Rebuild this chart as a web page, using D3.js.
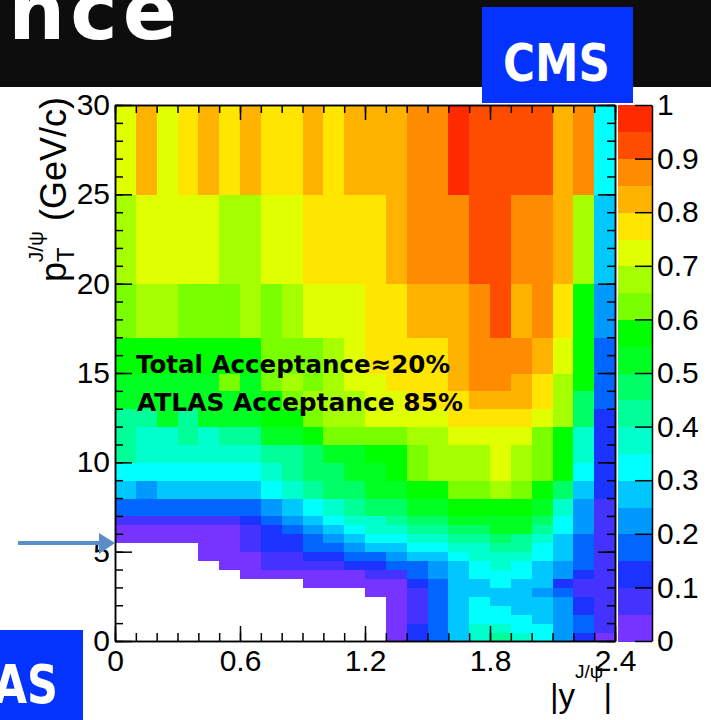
<!DOCTYPE html>
<html>
<head>
<meta charset="utf-8">
<script src="https://cdn.jsdelivr.net/npm/d3@7"></script>
<style>
    body { margin: 0; background: #fff; }
    svg { display: block; }
</style>
</head>
<body>
<svg id="chart" width="711" height="720"></svg>
<script>
// |y| bin edges (24 bins of 0.1)
const yEdges = [0, 0.1, 0.2, 0.3, 0.4, 0.5, 0.6, 0.7, 0.8, 0.9, 1.0, 1.1, 1.2,
    1.3, 1.4, 1.5, 1.6, 1.7, 1.8, 1.9, 2.0, 2.1, 2.2, 2.3, 2.4];

// pT bin edges (GeV/c)
const ptEdges = [0, 0.5, 1, 1.5, 2, 2.5, 3, 3.5, 4, 4.5, 5, 5.5, 6, 6.5, 7,
    8, 9, 10, 11, 12, 13, 14, 15, 17, 20, 25, 30];

// acceptance per cell, one row per pT bin (low to high), one value per |y| bin; null = empty
const N = null;
const acceptance = [
    [N, N, N, N, N, N, N, N, N, N, N, N, N, 0.02, 0.12, 0.17, 0.27, 0.37, 0.42, 0.37, 0.32, 0.22, 0.12, 0.02],
    [N, N, N, N, N, N, N, N, N, N, N, N, N, 0.02, 0.12, 0.17, 0.27, 0.37, 0.37, 0.32, 0.32, 0.22, 0.17, 0.07],
    [N, N, N, N, N, N, N, N, N, N, N, N, N, 0.02, 0.07, 0.17, 0.27, 0.32, 0.32, 0.32, 0.27, 0.22, 0.17, 0.07],
    [N, N, N, N, N, N, N, N, N, N, N, N, N, 0.02, 0.07, 0.17, 0.27, 0.32, 0.32, 0.27, 0.27, 0.22, 0.12, 0.07],
    [N, N, N, N, N, N, N, N, N, N, N, N, N, 0.02, 0.07, 0.17, 0.27, 0.32, 0.27, 0.27, 0.27, 0.22, 0.12, 0.07],
    [N, N, N, N, N, N, N, N, N, N, N, N, 0.02, 0.02, 0.07, 0.17, 0.27, 0.27, 0.27, 0.27, 0.22, 0.17, 0.07, 0.07],
    [N, N, N, N, N, N, N, N, N, 0.02, 0.02, 0.02, 0.02, 0.02, 0.12, 0.17, 0.27, 0.27, 0.32, 0.27, 0.27, 0.12, 0.07, 0.07],
    [N, N, N, N, N, N, 0.02, 0.02, 0.02, 0.02, 0.02, 0.02, 0.07, 0.07, 0.17, 0.22, 0.27, 0.32, 0.32, 0.32, 0.27, 0.22, 0.12, 0.07],
    [N, N, N, N, N, 0.02, 0.02, 0.07, 0.07, 0.07, 0.07, 0.12, 0.12, 0.17, 0.17, 0.22, 0.27, 0.32, 0.37, 0.32, 0.27, 0.22, 0.17, 0.07],
    [N, N, N, N, 0.02, 0.02, 0.02, 0.07, 0.07, 0.12, 0.12, 0.17, 0.17, 0.22, 0.27, 0.27, 0.32, 0.37, 0.37, 0.37, 0.32, 0.27, 0.17, 0.07],
    [N, N, N, N, 0.02, 0.02, 0.07, 0.12, 0.12, 0.17, 0.17, 0.22, 0.27, 0.27, 0.32, 0.32, 0.37, 0.37, 0.42, 0.42, 0.32, 0.27, 0.17, 0.07],
    [0.02, 0.02, 0.02, 0.02, 0.02, 0.02, 0.07, 0.12, 0.12, 0.17, 0.22, 0.27, 0.32, 0.32, 0.37, 0.37, 0.42, 0.42, 0.47, 0.42, 0.37, 0.27, 0.17, 0.07],
    [0.02, 0.02, 0.02, 0.02, 0.02, 0.02, 0.07, 0.12, 0.17, 0.22, 0.27, 0.32, 0.37, 0.37, 0.42, 0.42, 0.47, 0.47, 0.52, 0.52, 0.42, 0.32, 0.22, 0.07],
    [0.07, 0.07, 0.07, 0.07, 0.07, 0.07, 0.12, 0.17, 0.22, 0.27, 0.32, 0.37, 0.37, 0.42, 0.47, 0.47, 0.52, 0.52, 0.52, 0.52, 0.47, 0.32, 0.22, 0.07],
    [0.17, 0.17, 0.17, 0.17, 0.17, 0.17, 0.17, 0.22, 0.27, 0.32, 0.37, 0.42, 0.47, 0.47, 0.52, 0.52, 0.57, 0.57, 0.57, 0.57, 0.52, 0.37, 0.22, 0.07],
    [0.27, 0.22, 0.27, 0.27, 0.27, 0.27, 0.27, 0.32, 0.37, 0.42, 0.47, 0.47, 0.52, 0.52, 0.57, 0.57, 0.62, 0.62, 0.67, 0.62, 0.57, 0.47, 0.27, 0.12],
    [0.32, 0.32, 0.32, 0.32, 0.32, 0.32, 0.32, 0.37, 0.42, 0.47, 0.47, 0.52, 0.52, 0.57, 0.62, 0.67, 0.67, 0.67, 0.72, 0.67, 0.62, 0.57, 0.32, 0.12],
    [0.42, 0.37, 0.37, 0.37, 0.37, 0.37, 0.37, 0.42, 0.42, 0.47, 0.52, 0.52, 0.57, 0.57, 0.62, 0.67, 0.67, 0.67, 0.72, 0.67, 0.62, 0.57, 0.37, 0.12],
    [0.42, 0.37, 0.37, 0.42, 0.37, 0.42, 0.42, 0.52, 0.52, 0.57, 0.62, 0.62, 0.62, 0.62, 0.67, 0.67, 0.72, 0.72, 0.72, 0.72, 0.62, 0.57, 0.37, 0.12],
    [0.42, 0.42, 0.52, 0.42, 0.52, 0.52, 0.52, 0.57, 0.57, 0.62, 0.67, 0.67, 0.72, 0.72, 0.72, 0.72, 0.77, 0.77, 0.77, 0.77, 0.72, 0.67, 0.47, 0.12],
    [0.52, 0.52, 0.52, 0.52, 0.52, 0.52, 0.52, 0.57, 0.62, 0.67, 0.67, 0.67, 0.72, 0.72, 0.77, 0.77, 0.77, 0.82, 0.82, 0.82, 0.77, 0.67, 0.47, 0.17],
    [0.52, 0.52, 0.52, 0.52, 0.52, 0.62, 0.52, 0.62, 0.67, 0.62, 0.67, 0.72, 0.72, 0.77, 0.77, 0.77, 0.82, 0.87, 0.87, 0.82, 0.77, 0.67, 0.57, 0.17],
    [0.57, 0.57, 0.57, 0.57, 0.57, 0.57, 0.57, 0.62, 0.62, 0.62, 0.67, 0.72, 0.77, 0.77, 0.77, 0.77, 0.82, 0.87, 0.87, 0.87, 0.82, 0.72, 0.57, 0.17],
    [0.62, 0.67, 0.67, 0.62, 0.62, 0.62, 0.67, 0.62, 0.67, 0.72, 0.72, 0.72, 0.77, 0.77, 0.82, 0.82, 0.82, 0.87, 0.92, 0.82, 0.87, 0.77, 0.57, 0.22],
    [0.67, 0.72, 0.72, 0.72, 0.72, 0.67, 0.67, 0.72, 0.72, 0.77, 0.77, 0.77, 0.77, 0.82, 0.87, 0.87, 0.87, 0.92, 0.92, 0.87, 0.87, 0.82, 0.67, 0.27],
    [0.72, 0.82, 0.72, 0.77, 0.82, 0.77, 0.82, 0.77, 0.77, 0.82, 0.77, 0.82, 0.82, 0.82, 0.87, 0.87, 0.97, 0.92, 0.92, 0.92, 0.92, 0.82, 0.87, 0.32]
];

// 20-step palette, 0 -> 1
const palette = ['#7733ff', '#4433ff', '#1a33ff', '#0066ff', '#0099ff', '#00c8ff', '#00ffff', '#00ffcc',
    '#00ff99', '#00ff66', '#00ff22', '#00ff00', '#7aff00', '#a6ff00', '#e0ff00', '#ffe500',
    '#ffb300', '#ff8c00', '#ff4d00', '#ff2a00'];

const xMajor = [0, 0.6, 1.2, 1.8, 2.4];
const yMajor = [0, 5, 10, 15, 20, 25, 30];
const zTicks = [0, 0.1, 0.2, 0.3, 0.4, 0.5, 0.6, 0.7, 0.8, 0.9, 1];

const note1 = 'Total Acceptance\u224820%';
const note2 = 'ATLAS Acceptance 85%';

const svg = d3.select('#chart');
const labelFont = '"Liberation Sans", Arial, Helvetica, sans-serif';
const fatFont = '"Comic Sans MS", "DejaVu Sans", sans-serif';

const plot = { left: 115, right: 615, top: 105, bottom: 641 };
const bar = { left: 618, right: 652 };

const x = d3.scaleLinear().domain([0, 2.4]).range([plot.left, plot.right]);
const y = d3.scaleLinear().domain([0, 30]).range([plot.bottom, plot.top]);
const z = d3.scaleLinear().domain([0, 1]).range([plot.bottom, plot.top]);
const color = d3.scaleQuantize().domain([0, 1]).range(palette);

svg.append('rect').attr('width', 711).attr('height', 720).attr('fill', '#fff');

// header band
svg.append('rect').attr('x', 0).attr('y', 0).attr('width', 711).attr('height', 87).attr('fill', '#0d0d0d');
svg.append('text')
    .attr('x', 182).attr('y', 39)
    .attr('text-anchor', 'end')
    .attr('font-family', fatFont).attr('font-weight', 'bold').attr('font-size', 80)
    .attr('letter-spacing', 5)
    .attr('fill', '#fff')
    .text('Acceptance');

// cells
let cells = [];
acceptance.forEach((row, r) => {
    row.forEach((v, c) => {
        if (v == null) return;
        cells.push({ x0: yEdges[c], x1: yEdges[c + 1], p0: ptEdges[r], p1: ptEdges[r + 1], v: v });
    });
});

svg.append('g')
    .attr('shape-rendering', 'crispEdges')
    .selectAll('rect')
    .data(cells)
    .join('rect')
    .attr('x', d => x(d.x0))
    .attr('y', d => y(d.p1))
    .attr('width', d => x(d.x1) - x(d.x0) + 0.5)
    .attr('height', d => y(d.p0) - y(d.p1) + 0.5)
    .attr('fill', d => color(d.v));

// palette bar
const bands = palette.map((c, i) => ({ lo: i / palette.length, hi: (i + 1) / palette.length, c: c }));
svg.append('g')
    .attr('shape-rendering', 'crispEdges')
    .selectAll('rect')
    .data(bands)
    .join('rect')
    .attr('x', bar.left)
    .attr('y', d => z(d.hi))
    .attr('width', bar.right - bar.left)
    .attr('height', d => z(d.lo) - z(d.hi) + 0.5)
    .attr('fill', d => d.c);

function styleAxis(g) {
    g.selectAll('path, line').attr('stroke', '#000').attr('stroke-width', 1.5);
    g.selectAll('text').attr('font-family', labelFont).attr('font-size', 30).attr('fill', '#000');
}

// frame axes: minor + major, ticks pointing inward
const yMinor = d3.range(0, 31, 1);
const xMinor = yEdges;

svg.append('g').attr('transform', `translate(0,${plot.bottom})`)
    .call(d3.axisBottom(x).tickValues(xMinor).tickSize(-8).tickSizeOuter(0).tickFormat(''))
    .call(styleAxis);
svg.append('g').attr('transform', `translate(0,${plot.bottom})`)
    .call(d3.axisBottom(x).tickValues(xMajor).tickSize(-15).tickSizeOuter(0).tickPadding(9).tickFormat(d3.format('~g')))
    .call(styleAxis);
svg.append('g').attr('transform', `translate(0,${plot.top})`)
    .call(d3.axisTop(x).tickValues(xMinor).tickSize(-8).tickSizeOuter(0).tickFormat(''))
    .call(styleAxis);
svg.append('g').attr('transform', `translate(0,${plot.top})`)
    .call(d3.axisTop(x).tickValues(xMajor).tickSize(-15).tickSizeOuter(0).tickFormat(''))
    .call(styleAxis);

svg.append('g').attr('transform', `translate(${plot.left},0)`)
    .call(d3.axisLeft(y).tickValues(yMinor).tickSize(-8).tickSizeOuter(0).tickFormat(''))
    .call(styleAxis);
svg.append('g').attr('transform', `translate(${plot.left},0)`)
    .call(d3.axisLeft(y).tickValues(yMajor).tickSize(-17).tickSizeOuter(0).tickPadding(5))
    .call(styleAxis);
svg.append('g').attr('transform', `translate(${plot.right},0)`)
    .call(d3.axisRight(y).tickValues(yMinor).tickSize(-8).tickSizeOuter(0).tickFormat(''))
    .call(styleAxis);
svg.append('g').attr('transform', `translate(${plot.right},0)`)
    .call(d3.axisRight(y).tickValues(yMajor).tickSize(-17).tickSizeOuter(0).tickFormat(''))
    .call(styleAxis);

// palette axis
svg.append('g').attr('transform', `translate(${bar.right},0)`)
    .call(d3.axisRight(z).tickValues(zTicks).tickSize(-17).tickSizeOuter(0).tickPadding(5).tickFormat(d3.format('~g')))
    .call(styleAxis);

// axis titles
const yTitle = svg.append('text')
    .attr('transform', 'translate(66,97) rotate(-90)')
    .attr('text-anchor', 'end')
    .attr('font-family', labelFont).attr('font-size', 36);
yTitle.append('tspan').text('p');
yTitle.append('tspan').attr('font-size', 24).attr('dy', 8).text('T');
yTitle.append('tspan').attr('font-size', 21).attr('dx', -15).attr('dy', -31).text('J/\u03c8');
yTitle.append('tspan').attr('dy', 23).text(' (GeV/c)');

const xTitle = svg.append('text')
    .attr('x', 612).attr('y', 707)
    .attr('text-anchor', 'end')
    .attr('font-family', labelFont).attr('font-size', 33);
xTitle.append('tspan').text('|y');
xTitle.append('tspan').attr('font-size', 19).attr('dy', -29).text('J/\u03c8');
xTitle.append('tspan').attr('dy', 29).text('|');

// notes inside the frame
svg.append('text')
    .attr('x', 136).attr('y', 373)
    .attr('font-family', fatFont).attr('font-weight', 'bold').attr('font-size', 25)
    .attr('textLength', 314).attr('lengthAdjust', 'spacingAndGlyphs')
    .text(note1);
svg.append('text')
    .attr('x', 137).attr('y', 411)
    .attr('font-family', fatFont).attr('font-weight', 'bold').attr('font-size', 25)
    .attr('textLength', 326).attr('lengthAdjust', 'spacingAndGlyphs')
    .text(note2);

// experiment tags
svg.append('rect').attr('x', 482).attr('y', 7).attr('width', 151).attr('height', 96).attr('fill', '#0433ff');
svg.append('text')
    .attr('x', 503).attr('y', 81)
    .attr('font-family', fatFont).attr('font-weight', 'bold').attr('font-size', 52)
    .attr('textLength', 107).attr('lengthAdjust', 'spacingAndGlyphs')
    .attr('fill', '#fff')
    .text('CMS');

svg.append('rect').attr('x', 0).attr('y', 630).attr('width', 83).attr('height', 90).attr('fill', '#0433ff');
svg.append('text')
    .attr('x', -93).attr('y', 703)
    .attr('font-family', fatFont).attr('font-weight', 'bold').attr('font-size', 54)
    .attr('textLength', 151).attr('lengthAdjust', 'spacingAndGlyphs')
    .attr('fill', '#fff')
    .text('ATLAS');

// arrow at the pT cut
svg.append('line')
    .attr('x1', 18).attr('y1', 543).attr('x2', 102).attr('y2', 543)
    .attr('stroke', '#5b8ec9').attr('stroke-width', 4);
svg.append('path')
    .attr('d', 'M99,533 L115,543 L99,554 Z')
    .attr('fill', '#5b8ec9');
</script>
</body>
</html>
